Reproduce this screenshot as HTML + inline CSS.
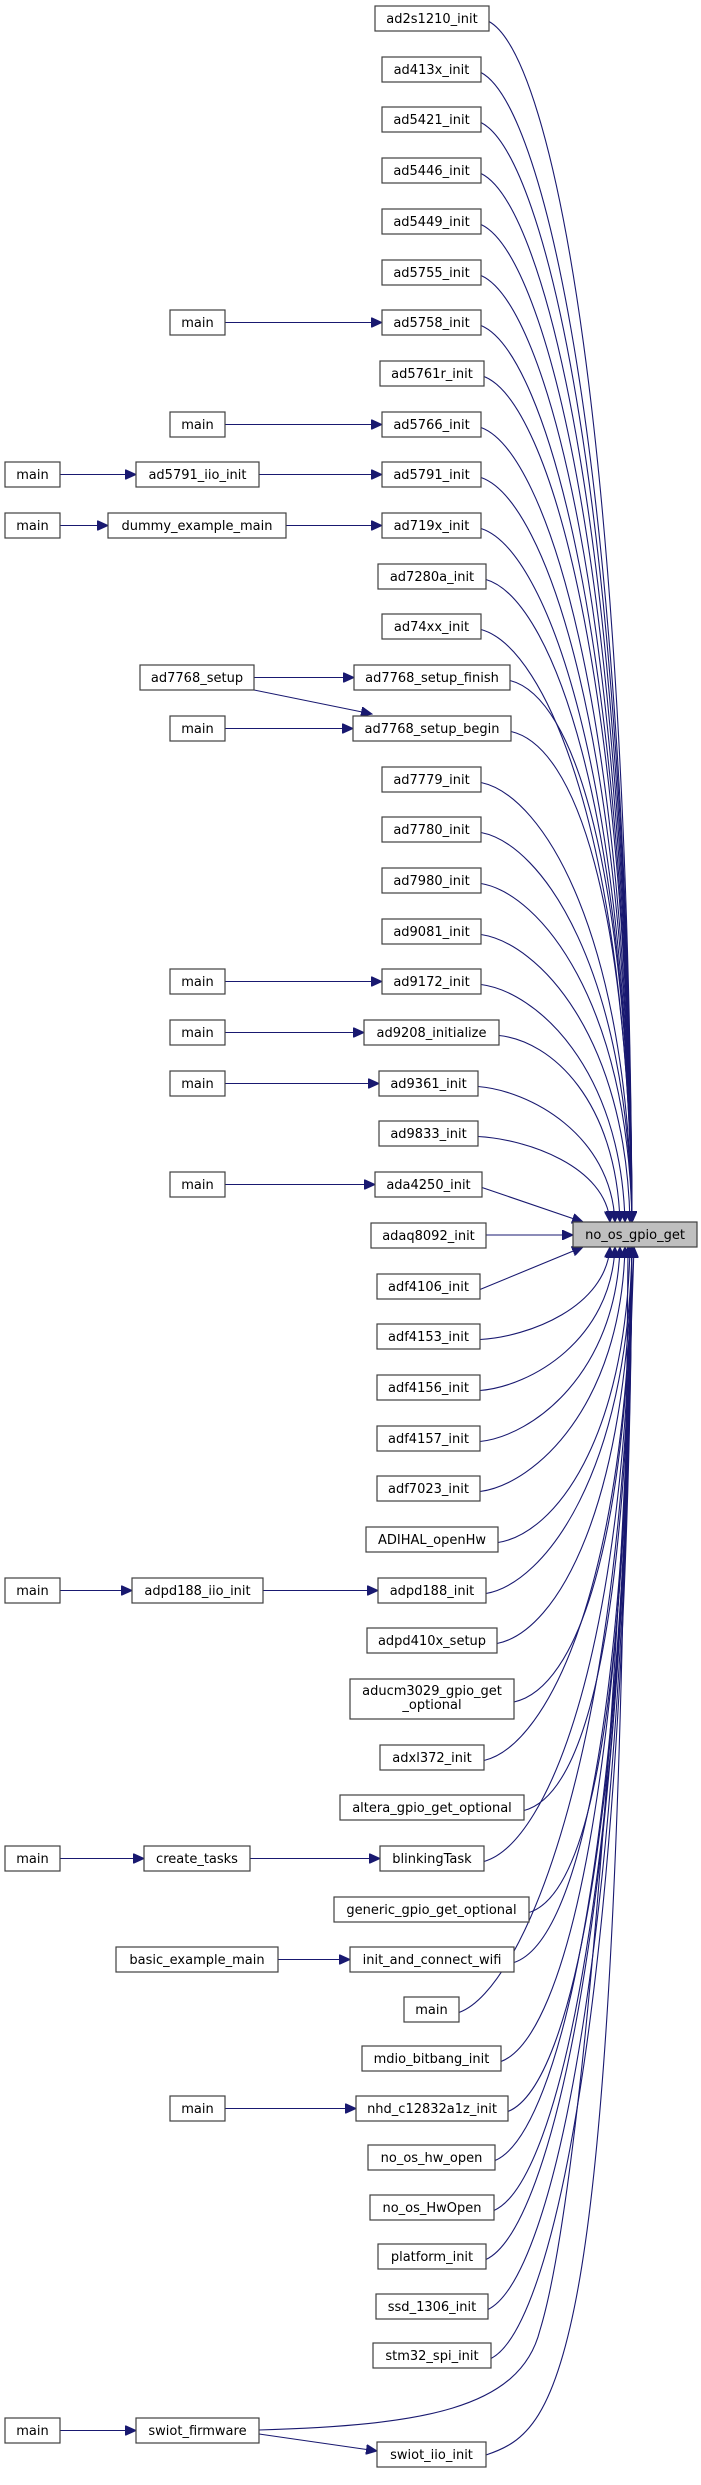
<!DOCTYPE html>
<html><head><meta charset="utf-8"><style>
html,body{margin:0;padding:0;background:#fff;}
svg{display:block;}
text{font-family:"DejaVu Sans","Liberation Sans",sans-serif;font-size:13px;fill:#000;text-anchor:middle;}
.n{fill:#fff;stroke:#404040;stroke-width:1.2;}
.t{fill:#bfbfbf;stroke:#404040;stroke-width:1.2;}
.e{fill:none;stroke:#191970;stroke-width:1.1;}
</style></head><body>
<svg id="g" width="701" height="2485" viewBox="0 0 701 2485" xmlns="http://www.w3.org/2000/svg">
<defs><marker id="a" markerWidth="12" markerHeight="10" refX="11" refY="5" orient="auto" markerUnits="userSpaceOnUse"><path d="M0,0 L11,5 L0,10 z" fill="#191970" stroke="#191970"/></marker></defs>
<g id="edges"></g>
<g id="nodes"></g>
</svg>
<script>
var N=[
["ad2s1210_init",375,489],["ad413x_init",382,481],["ad5421_init",382,481],["ad5446_init",382,481],["ad5449_init",382,481],["ad5755_init",382,481],
["ad5758_init",382,481],["ad5761r_init",380,484],["ad5766_init",382,481],["ad5791_init",382,481],["ad719x_init",382,481],["ad7280a_init",378,486],
["ad74xx_init",382,481],["ad7768_setup_finish",354,510],["ad7768_setup_begin",353,511],["ad7779_init",382,481],["ad7780_init",382,481],["ad7980_init",382,481],
["ad9081_init",382,481],["ad9172_init",382,481],["ad9208_initialize",364,499],["ad9361_init",379,478],["ad9833_init",379,478],["ada4250_init",375,482],
["adaq8092_init",371,486],["adf4106_init",377,480],["adf4153_init",377,480],["adf4156_init",377,480],["adf4157_init",377,480],["adf7023_init",377,480],
["ADIHAL_openHw",366,498],["adpd188_init",378,486],["adpd410x_setup",367,497],["aducm3029_gpio_get|_optional",350,514],["adxl372_init",380,484],
["altera_gpio_get_optional",340,524],["blinkingTask",380,484],["generic_gpio_get_optional",334,529],["init_and_connect_wifi",350,514],["main",404,459],
["mdio_bitbang_init",362,501],["nhd_c12832a1z_init",356,508],["no_os_hw_open",368,495],["no_os_HwOpen",370,494],["platform_init",378,486],
["ssd_1306_init",376,488],["stm32_spi_init",373,491]];
var tops=[];for(var i=0;i<=32;i++)tops.push(Math.round(6+50.7*i));
tops.push(1679);[1745,1795,1846,1897,1947,1997,2046,2096,2145,2195,2244,2294,2343].forEach(function(v){tops.push(v)});
var ns="http://www.w3.org/2000/svg",G=document.getElementById('nodes'),E=document.getElementById('edges');
function box(label,x1,x2,top,h,cls){var r=document.createElementNS(ns,'rect');r.setAttribute('x',x1);r.setAttribute('y',top);r.setAttribute('width',x2-x1);r.setAttribute('height',h);r.setAttribute('class',cls||'n');G.appendChild(r);
var parts=label.split('|');parts.forEach(function(p,k){var t=document.createElementNS(ns,'text');t.setAttribute('x',(x1+x2)/2);t.setAttribute('y',parts.length>1?top+16+k*14:top+17);t.textContent=p;G.appendChild(t);});}
function path(d){var p=document.createElementNS(ns,'path');p.setAttribute('d',d);p.setAttribute('class','e');p.setAttribute('marker-end','url(#a)');E.appendChild(p);}
function line(x1,y1,x2,y2){path('M'+x1+','+y1+' L'+x2+','+y2);}
box("no_os_gpio_get",573,697,1222,25,'t');
var T=24;
function curve(x1,y1,diff){
 var above=diff<0,ad=Math.abs(diff),ey=above?1222:1247,ex;
 if(ad==1){ex=583;line(x1,y1,ex,ey);return;}
 ex=Math.min(632,600+ad*5);
 var dy=ey-y1;
 path('M'+x1+','+y1+' C'+(x1+45+Math.min(ad,10)*2)+','+(y1+dy*0.03)+' '+(ex-4)+','+(y1+dy*0.35)+' '+ex+','+ey);}
N.forEach(function(n,i){var h=i==33?40:25;box(n[0],n[1],n[2],tops[i],h);
 var cy=tops[i]+h/2;
 if(i==T){line(n[2],1235,573,1235);}else curve(n[2],cy+3,i-T);});
// swiot
box("swiot_iio_init",377,486,2442,25);
path('M486,2455 C560,2430 620,2380 628,1247');
box("swiot_firmware",136,259,2418,25);
path('M259,2430 C420,2425 520,2410 540,2330 C580,2200 620,1700 634,1247');
line(259,2434,377,2451);
box("main",5,60,2418,25);line(60,2430.5,136,2430.5);
// left columns
function lm(x1,x2,row,dst){var t=tops[row];box("main",x1,x2,t,25);}
function chain(lbl,x1,x2,row,dx){var t=tops[row];box(lbl,x1,x2,t,25);line(x2,t+12.5,dx,t+12.5);}
[6,8,14,19,20,21,23,41].forEach(function(r){chain("main",170,225,r,N[r][1]);});
chain("ad5791_iio_init",136,259,9,382);chain("main",5,60,9,136);
chain("dummy_example_main",108,286,10,382);chain("main",5,60,10,108);
chain("ad7768_setup",140,254,13,354);line(254,690,372,714);
chain("adpd188_iio_init",132,263,31,378);chain("main",5,60,31,132);
chain("create_tasks",144,250,36,380);chain("main",5,60,36,144);
chain("basic_example_main",116,278,38,350);
</script>
</body></html>
